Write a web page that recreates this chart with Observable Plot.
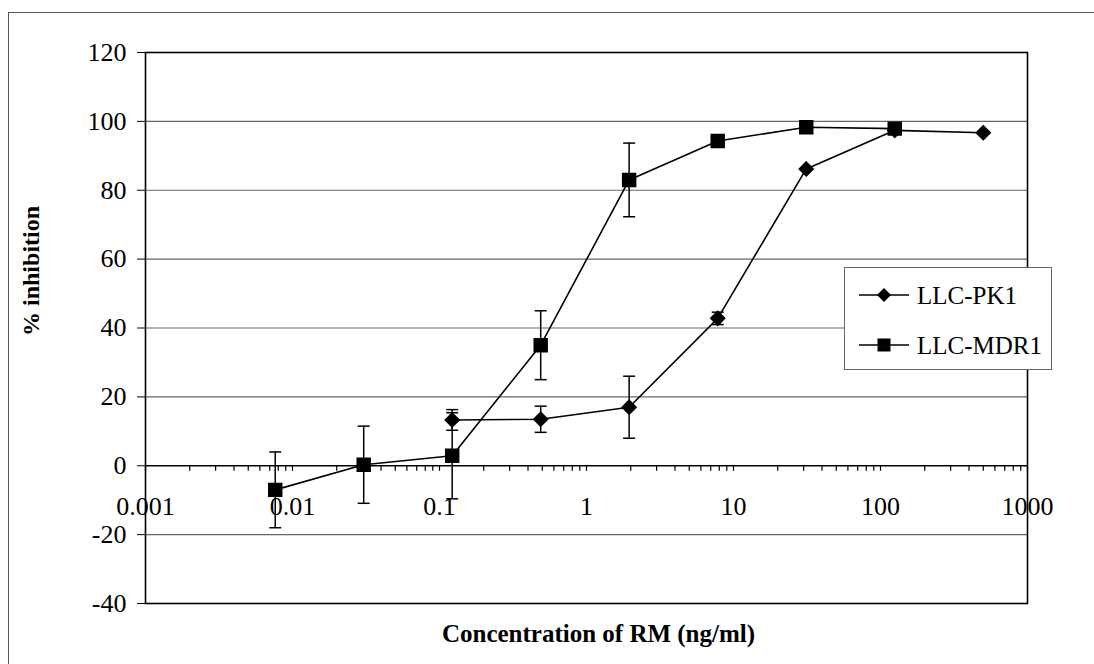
<!DOCTYPE html>
<html><head><meta charset="utf-8">
<script src="https://cdn.jsdelivr.net/npm/d3@7"></script>
<script src="https://cdn.jsdelivr.net/npm/@observablehq/plot@0.6"></script>
<style>
html,body{margin:0;padding:0;background:#fff;}
#wrap{position:relative;width:1094px;height:664px;overflow:hidden;background:#fff;font-family:"Liberation Serif","Times New Roman",serif;}
#border{position:absolute;left:8px;top:12px;width:1200px;height:800px;border:1.5px solid #555;box-sizing:border-box;}
#chart{position:absolute;left:0;top:0;}
#legend{position:absolute;left:844px;top:267px;width:208px;height:103px;border:1px solid #666;background:#fff;box-sizing:border-box;}
</style></head><body>
<div id="wrap"><div id="border"></div><div id="chart"></div><div id="legend"></div></div>
<script>
// ---- data ----
const seriesNames = ["LLC-PK1", "LLC-MDR1"];
const concentration = [0.00763, 0.0305, 0.122, 0.488, 1.95, 7.81, 31.25, 125, 500];
const pk1Mean = [null, null, 13.3, 13.5, 17, 42.8, 86.2, 97.4, 96.7];
const pk1Err  = [null, null, 3, 3.8, 9, 1.8, 0, 0, 0];
const mdr1Mean = [-7, 0.3, 2.9, 35, 83, 94.3, 98.3, 97.9, null];
const mdr1Err  = [11, 11.2, 12.5, 10, 10.7, 0, 0, 0, null];
const yTicks = [-40, -20, 0, 20, 40, 60, 80, 100, 120];
const xTickValues = [0.001, 0.01, 0.1, 1, 10, 100, 1000];
const xTickLabels = ["0.001", "0.01", "0.1", "1", "10", "100", "1000"];
const xLabel = "Concentration of RM (ng/ml)";
const yLabel = "% inhibition";

// ---- derived tables ----
const rows = [];
[[pk1Mean, pk1Err], [mdr1Mean, mdr1Err]].forEach(([m, e], si) => {
  concentration.forEach((c, i) => {
    if (m[i] != null) rows.push({series: seriesNames[si], conc: c, mean: m[i], err: e[i]});
  });
});
const errRows = rows.filter(d => d.err > 0);
const capRows = errRows.flatMap(d => [{conc: d.conc, y: d.mean + d.err}, {conc: d.conc, y: d.mean - d.err}]);
const minorTicks = [];
xTickValues.forEach((t, i) => {
  if (i < xTickValues.length - 1) for (let k = 1; k <= 9; k++) minorTicks.push(t * k);
  else minorTicks.push(t);
});
const xTickRows = xTickValues.map((v, i) => ({v, label: xTickLabels[i]}));

const tickSym = {draw(ctx) { ctx.moveTo(0, 0); ctx.lineTo(0, 5); }};
const capSym = {draw(ctx) { ctx.moveTo(-6, 0); ctx.lineTo(6, 0); }};
const FONT = "'Liberation Serif','Times New Roman',serif";

const chart = Plot.plot({
  width: 1094,
  height: 664,
  marginLeft: 145,
  marginRight: 67,
  marginTop: 52,
  marginBottom: 61,
  style: {fontFamily: FONT, fontSize: "26px", background: "transparent", color: "black", overflow: "visible"},
  x: {type: "log", domain: [0.001, 1000], axis: null},
  y: {domain: [-40, 120], ticks: yTicks, tickSize: 8, tickPadding: 11, tickFormat: d => String(d), label: null},
  marks: [
    Plot.ruleY(yTicks.filter(d => d !== 0), {stroke: "#666", strokeWidth: 1.2}),
    Plot.frame({stroke: "black", strokeWidth: 1.6}),
    Plot.ruleY([0], {stroke: "black", strokeWidth: 1.5}),
    Plot.dot(minorTicks, {x: d => d, y: () => 0, symbol: tickSym, r: 3, stroke: "black", fill: "none", strokeWidth: 1.2}),
    Plot.text(xTickRows, {x: "v", y: () => 0, dy: 41, text: "label", fontSize: 26, fill: "black"}),
    Plot.ruleX(errRows, {x: "conc", y1: d => d.mean - d.err, y2: d => d.mean + d.err, stroke: "black", strokeWidth: 1.5}),
    Plot.dot(capRows, {x: "conc", y: "y", symbol: capSym, r: 3, stroke: "black", fill: "none", strokeWidth: 1.5}),
    Plot.line(rows, {x: "conc", y: "mean", z: "series", stroke: "black", strokeWidth: 1.6}),
    Plot.dot(rows.filter(d => d.series === seriesNames[0]), {x: "conc", y: "mean", symbol: "diamond2", r: 6.3, fill: "black", stroke: "black"}),
    Plot.dot(rows.filter(d => d.series === seriesNames[1]), {x: "conc", y: "mean", symbol: "square", r: 7.3, fill: "black", stroke: "black"}),
    Plot.text([yLabel], {frameAnchor: "left", text: d => d, rotate: -90, dx: -114, dy: 8, fontSize: 24, fontWeight: "bold", fill: "black"}),
    Plot.text([xLabel], {frameAnchor: "bottom", text: d => d, dx: 12, dy: 38, fontSize: 25, fontWeight: "bold", fill: "black"})
  ]
});
document.getElementById("chart").appendChild(chart);

// ---- legend ----
const leg = d3.select("#legend").append("svg").attr("width", 206).attr("height", 101)
  .style("font-family", FONT);
const symbols = [d3.symbol(d3.symbolDiamond2, 125), d3.symbol(d3.symbolSquare, 169)];
seriesNames.forEach((name, i) => {
  const cy = 27 + i * 50;
  const g = leg.append("g");
  g.append("line").attr("x1", 14).attr("x2", 64).attr("y1", cy).attr("y2", cy).attr("stroke", "black").attr("stroke-width", 1.6);
  g.append("path").attr("d", symbols[i]()).attr("transform", `translate(39,${cy})`).attr("fill", "black");
  g.append("text").attr("x", 72).attr("y", cy + 9).attr("font-size", 25).attr("fill", "black").text(name);
});
</script>
</body></html>
